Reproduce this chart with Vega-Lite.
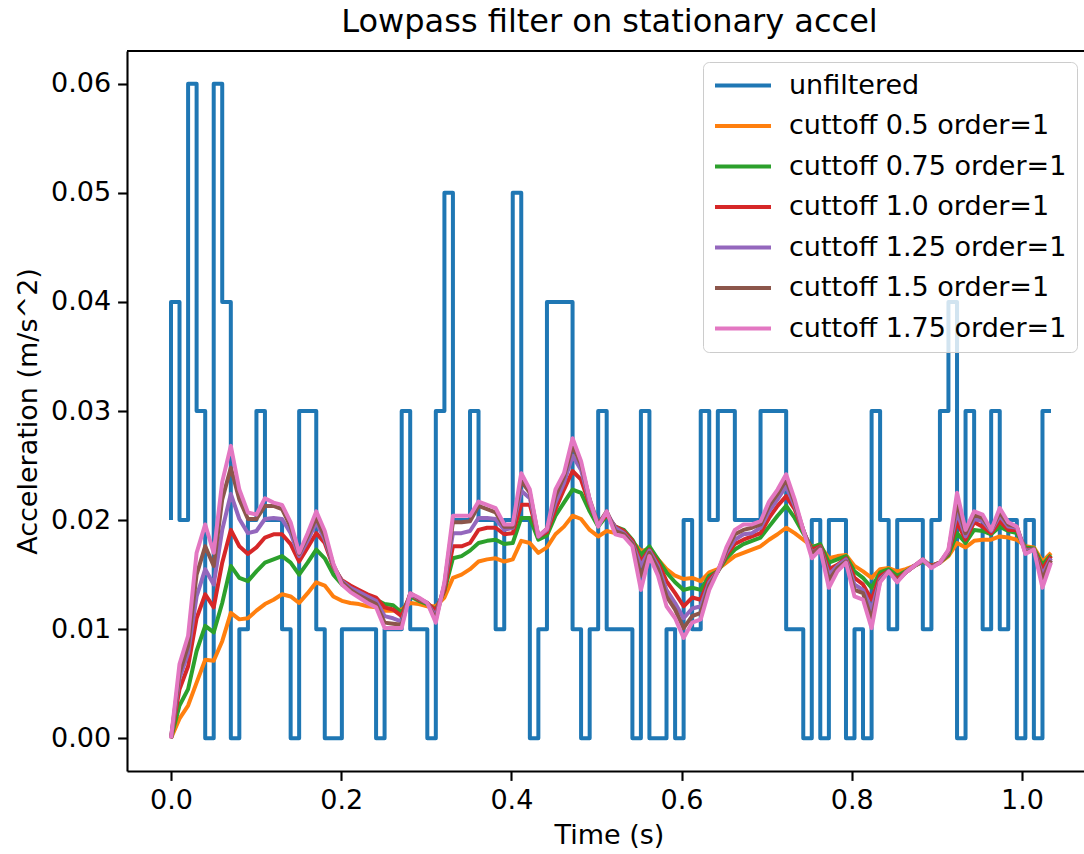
{
"$schema": "https://vega.github.io/schema/vega-lite/v6.json",
"width": 957, "height": 720,
"autosize": {"type": "none"},
"padding": {"left": 127, "top": 51, "right": 0, "bottom": 83},
"background": "white",
"config": {"font": "DejaVu Sans", "view": {"stroke": null},
 "axis": {"labelFont": "DejaVu Sans", "titleFont": "DejaVu Sans", "labelFontSize": 27, "titleFontSize": 27, "titleFontWeight": "normal", "labelColor": "black", "titleColor": "black", "tickColor": "black", "domainColor": "black", "tickSize": 9.4, "tickWidth": 2.1, "domainWidth": 2.1, "grid": false, "zindex": 1},
 "legend": {"title": null}},
"title": {"text": "Lowpass filter on stationary accel", "fontSize": 32, "font": "DejaVu Sans", "fontWeight": "normal", "color": "black", "anchor": "middle", "frame": "group", "offset": 16, "baseline": "alphabetic", "dx": 4, "dy": 30},
"data": {"values": [
{"t":0,"u":0.02,"a":0,"b":0,"c":0,"d":0,"e":0,"f":0},
{"t":0.01,"u":0.04,"a":0.0018,"b":0.003,"c":0.0045,"d":0.0055,"e":0.006,"f":0.0068},
{"t":0.0201,"u":0.02,"a":0.003,"b":0.0045,"c":0.0066,"d":0.0078,"e":0.0085,"f":0.0094},
{"t":0.0301,"u":0.06,"a":0.0051,"b":0.008,"c":0.011,"d":0.013,"e":0.015,"f":0.017},
{"t":0.0402,"u":0.03,"a":0.0072,"b":0.0103,"c":0.0132,"d":0.0155,"e":0.0176,"f":0.0196},
{"t":0.0502,"u":0,"a":0.0071,"b":0.0097,"c":0.012,"d":0.0141,"e":0.0158,"f":0.017},
{"t":0.0602,"u":0.06,"a":0.0089,"b":0.0124,"c":0.0161,"d":0.0191,"e":0.0219,"f":0.0235},
{"t":0.0703,"u":0.04,"a":0.0115,"b":0.0158,"c":0.0191,"d":0.0224,"e":0.0248,"f":0.0268},
{"t":0.0803,"u":0,"a":0.0109,"b":0.0147,"c":0.0176,"d":0.0201,"e":0.0219,"f":0.0228},
{"t":0.0904,"u":0.01,"a":0.011,"b":0.0144,"c":0.0169,"d":0.0188,"e":0.0201,"f":0.0207},
{"t":0.1004,"u":0.02,"a":0.0117,"b":0.0153,"c":0.0175,"d":0.019,"e":0.0201,"f":0.0205},
{"t":0.1104,"u":0.03,"a":0.0123,"b":0.0161,"c":0.0184,"d":0.0201,"e":0.0213,"f":0.022},
{"t":0.1205,"u":0.02,"a":0.0127,"b":0.0164,"c":0.0187,"d":0.0202,"e":0.0213,"f":0.0216},
{"t":0.1305,"u":0.02,"a":0.0132,"b":0.0167,"c":0.0187,"d":0.0201,"e":0.021,"f":0.0214},
{"t":0.1406,"u":0.01,"a":0.013,"b":0.0161,"c":0.0178,"d":0.0188,"e":0.0194,"f":0.0198},
{"t":0.1506,"u":0,"a":0.0124,"b":0.015,"c":0.0162,"d":0.0167,"e":0.0169,"f":0.017},
{"t":0.1606,"u":0.03,"a":0.0133,"b":0.0161,"c":0.0175,"d":0.0181,"e":0.0185,"f":0.0188},
{"t":0.1707,"u":0.03,"a":0.0143,"b":0.0173,"c":0.0188,"d":0.0198,"e":0.0202,"f":0.0208},
{"t":0.1807,"u":0.01,"a":0.014,"b":0.0165,"c":0.0179,"d":0.0182,"e":0.0185,"f":0.019},
{"t":0.1908,"u":0,"a":0.013,"b":0.015,"c":0.0157,"d":0.0158,"e":0.0159,"f":0.016},
{"t":0.2008,"u":0,"a":0.0126,"b":0.0141,"c":0.0145,"d":0.0144,"e":0.0143,"f":0.0141},
{"t":0.2108,"u":0.01,"a":0.0124,"b":0.0136,"c":0.014,"d":0.0138,"e":0.0136,"f":0.0134},
{"t":0.2209,"u":0.01,"a":0.0123,"b":0.0133,"c":0.0136,"d":0.0134,"e":0.0131,"f":0.0129},
{"t":0.2309,"u":0.01,"a":0.0121,"b":0.013,"c":0.0132,"d":0.013,"e":0.0127,"f":0.0124},
{"t":0.241,"u":0.01,"a":0.012,"b":0.0127,"c":0.0129,"d":0.0126,"e":0.0123,"f":0.012},
{"t":0.251,"u":0,"a":0.0117,"b":0.0123,"c":0.012,"d":0.0112,"e":0.0106,"f":0.0101},
{"t":0.261,"u":0.01,"a":0.0117,"b":0.0122,"c":0.0118,"d":0.011,"e":0.0105,"f":0.0101},
{"t":0.2711,"u":0.01,"a":0.0118,"b":0.0115,"c":0.0112,"d":0.0107,"e":0.0104,"f":0.0101},
{"t":0.2811,"u":0.03,"a":0.0124,"b":0.013,"c":0.0132,"d":0.0132,"e":0.0133,"f":0.0133},
{"t":0.2912,"u":0.01,"a":0.0123,"b":0.0126,"c":0.0127,"d":0.0128,"e":0.0128,"f":0.0129},
{"t":0.3012,"u":0.01,"a":0.0121,"b":0.0123,"c":0.0124,"d":0.0124,"e":0.0124,"f":0.0124},
{"t":0.3112,"u":0,"a":0.0121,"b":0.0118,"c":0.0117,"d":0.0112,"e":0.0109,"f":0.0106},
{"t":0.3213,"u":0.03,"a":0.0129,"b":0.0135,"c":0.0136,"d":0.014,"e":0.0141,"f":0.0143},
{"t":0.3313,"u":0.05,"a":0.0147,"b":0.0165,"c":0.0176,"d":0.0188,"e":0.0198,"f":0.0204},
{"t":0.3414,"u":0.02,"a":0.015,"b":0.0167,"c":0.0176,"d":0.0188,"e":0.0198,"f":0.0204},
{"t":0.3514,"u":0.02,"a":0.0155,"b":0.0172,"c":0.0179,"d":0.019,"e":0.0199,"f":0.0204},
{"t":0.3614,"u":0.03,"a":0.0162,"b":0.0179,"c":0.0191,"d":0.0202,"e":0.0213,"f":0.0217},
{"t":0.3715,"u":0.02,"a":0.0164,"b":0.0181,"c":0.0193,"d":0.0202,"e":0.021,"f":0.0214},
{"t":0.3815,"u":0.02,"a":0.0165,"b":0.0182,"c":0.0193,"d":0.0201,"e":0.0207,"f":0.0211},
{"t":0.3916,"u":0.01,"a":0.0162,"b":0.0178,"c":0.0187,"d":0.0191,"e":0.0194,"f":0.0196},
{"t":0.4016,"u":0.02,"a":0.0164,"b":0.0179,"c":0.0188,"d":0.0193,"e":0.0194,"f":0.0196},
{"t":0.4116,"u":0.05,"a":0.0181,"b":0.0202,"c":0.0214,"d":0.0227,"e":0.0236,"f":0.0243},
{"t":0.4217,"u":0.02,"a":0.0179,"b":0.0202,"c":0.0214,"d":0.022,"e":0.0225,"f":0.0228},
{"t":0.4317,"u":0,"a":0.017,"b":0.0182,"c":0.0185,"d":0.0185,"e":0.0185,"f":0.0185},
{"t":0.4418,"u":0.01,"a":0.0175,"b":0.0186,"c":0.0189,"d":0.0191,"e":0.0192,"f":0.0192},
{"t":0.4518,"u":0.04,"a":0.0187,"b":0.0204,"c":0.021,"d":0.0216,"e":0.0222,"f":0.0228},
{"t":0.4618,"u":0.04,"a":0.0194,"b":0.0216,"c":0.0228,"d":0.0234,"e":0.024,"f":0.0243},
{"t":0.4719,"u":0.04,"a":0.0204,"b":0.0228,"c":0.0245,"d":0.0259,"e":0.0268,"f":0.0275},
{"t":0.4819,"u":0.01,"a":0.0201,"b":0.0225,"c":0.0237,"d":0.0246,"e":0.0251,"f":0.0254},
{"t":0.492,"u":0,"a":0.0191,"b":0.0208,"c":0.0214,"d":0.0216,"e":0.0219,"f":0.0219},
{"t":0.502,"u":0.01,"a":0.0185,"b":0.0194,"c":0.0196,"d":0.0196,"e":0.0196,"f":0.0194},
{"t":0.512,"u":0.03,"a":0.019,"b":0.0204,"c":0.0205,"d":0.0207,"e":0.0208,"f":0.0208},
{"t":0.5221,"u":0.01,"a":0.0188,"b":0.0194,"c":0.0194,"d":0.0193,"e":0.019,"f":0.0187},
{"t":0.5321,"u":0.01,"a":0.0188,"b":0.0191,"c":0.019,"d":0.0188,"e":0.0187,"f":0.0185},
{"t":0.5422,"u":0.01,"a":0.018,"b":0.0182,"c":0.0181,"d":0.0179,"e":0.0178,"f":0.0176},
{"t":0.5522,"u":0,"a":0.0172,"b":0.0168,"c":0.0162,"d":0.0158,"e":0.0149,"f":0.0136},
{"t":0.5622,"u":0.03,"a":0.0173,"b":0.0176,"c":0.0173,"d":0.0172,"e":0.017,"f":0.0167},
{"t":0.5723,"u":0,"a":0.0164,"b":0.0164,"c":0.0161,"d":0.0158,"e":0.0155,"f":0.0149},
{"t":0.5823,"u":0,"a":0.0155,"b":0.0152,"c":0.0144,"d":0.0136,"e":0.013,"f":0.0121},
{"t":0.5924,"u":0.01,"a":0.0149,"b":0.0143,"c":0.0133,"d":0.0124,"e":0.0118,"f":0.011},
{"t":0.6024,"u":0,"a":0.0146,"b":0.0136,"c":0.0121,"d":0.011,"e":0.0101,"f":0.0092},
{"t":0.6124,"u":0.02,"a":0.0147,"b":0.0138,"c":0.0129,"d":0.0119,"e":0.0112,"f":0.0106},
{"t":0.6225,"u":0.01,"a":0.0144,"b":0.0136,"c":0.0127,"d":0.0121,"e":0.0115,"f":0.0109},
{"t":0.6325,"u":0.03,"a":0.0152,"b":0.0149,"c":0.0146,"d":0.0143,"e":0.014,"f":0.0136},
{"t":0.6426,"u":0.02,"a":0.0155,"b":0.0153,"c":0.0153,"d":0.0153,"e":0.0153,"f":0.0153},
{"t":0.6526,"u":0.03,"a":0.0161,"b":0.0165,"c":0.0168,"d":0.017,"e":0.0172,"f":0.0175},
{"t":0.6626,"u":0.03,"a":0.0167,"b":0.0173,"c":0.0178,"d":0.0182,"e":0.0187,"f":0.0191},
{"t":0.6727,"u":0.02,"a":0.017,"b":0.0178,"c":0.0182,"d":0.0187,"e":0.0191,"f":0.0196},
{"t":0.6827,"u":0.02,"a":0.0173,"b":0.0181,"c":0.0185,"d":0.0188,"e":0.0193,"f":0.0196},
{"t":0.6928,"u":0.02,"a":0.0176,"b":0.0184,"c":0.0188,"d":0.0193,"e":0.0196,"f":0.0199},
{"t":0.7028,"u":0.03,"a":0.0182,"b":0.0194,"c":0.0202,"d":0.0208,"e":0.0213,"f":0.0217},
{"t":0.7128,"u":0.03,"a":0.0187,"b":0.0204,"c":0.0213,"d":0.0219,"e":0.0224,"f":0.0228},
{"t":0.7229,"u":0.03,"a":0.0193,"b":0.0213,"c":0.0222,"d":0.0231,"e":0.0237,"f":0.0242},
{"t":0.7329,"u":0.01,"a":0.0188,"b":0.0202,"c":0.021,"d":0.0213,"e":0.0216,"f":0.0219},
{"t":0.743,"u":0.01,"a":0.0182,"b":0.0188,"c":0.019,"d":0.0191,"e":0.0191,"f":0.0191},
{"t":0.753,"u":0,"a":0.0176,"b":0.0175,"c":0.0173,"d":0.017,"e":0.0169,"f":0.0165},
{"t":0.763,"u":0.02,"a":0.0176,"b":0.0178,"c":0.0176,"d":0.0175,"e":0.0175,"f":0.0173},
{"t":0.7731,"u":0,"a":0.0165,"b":0.0161,"c":0.0155,"d":0.015,"e":0.0145,"f":0.0138},
{"t":0.7831,"u":0.02,"a":0.0167,"b":0.0164,"c":0.0159,"d":0.0158,"e":0.0156,"f":0.0153},
{"t":0.7932,"u":0.02,"a":0.0168,"b":0.0167,"c":0.0165,"d":0.0164,"e":0.0162,"f":0.0161},
{"t":0.8032,"u":0,"a":0.0158,"b":0.0153,"c":0.0147,"d":0.0141,"e":0.0136,"f":0.013},
{"t":0.8132,"u":0.01,"a":0.0153,"b":0.0147,"c":0.0141,"d":0.0136,"e":0.0133,"f":0.0127},
{"t":0.8233,"u":0,"a":0.0147,"b":0.0138,"c":0.0127,"d":0.0118,"e":0.0109,"f":0.0101},
{"t":0.8333,"u":0.03,"a":0.0155,"b":0.0152,"c":0.0149,"d":0.0146,"e":0.0144,"f":0.0143},
{"t":0.8434,"u":0.02,"a":0.0156,"b":0.0155,"c":0.0153,"d":0.0153,"e":0.0153,"f":0.0153},
{"t":0.8534,"u":0.01,"a":0.0153,"b":0.0149,"c":0.0146,"d":0.0144,"e":0.0144,"f":0.0143},
{"t":0.8634,"u":0.02,"a":0.0155,"b":0.0153,"c":0.0152,"d":0.0152,"e":0.0152,"f":0.0152},
{"t":0.8735,"u":0.02,"a":0.0158,"b":0.0158,"c":0.0158,"d":0.0158,"e":0.0158,"f":0.0158},
{"t":0.8835,"u":0.02,"a":0.0162,"b":0.0162,"c":0.0163,"d":0.0163,"e":0.0164,"f":0.0164},
{"t":0.8936,"u":0.01,"a":0.0158,"b":0.0158,"c":0.0158,"d":0.0157,"e":0.0157,"f":0.0156},
{"t":0.9036,"u":0.02,"a":0.0161,"b":0.0161,"c":0.0161,"d":0.0161,"e":0.0161,"f":0.0161},
{"t":0.9136,"u":0.03,"a":0.0167,"b":0.0168,"c":0.017,"d":0.0171,"e":0.0172,"f":0.0173},
{"t":0.9237,"u":0.04,"a":0.0179,"b":0.0188,"c":0.0198,"d":0.0207,"e":0.0216,"f":0.0225},
{"t":0.9337,"u":0,"a":0.0175,"b":0.0179,"c":0.0182,"d":0.0185,"e":0.0188,"f":0.0191},
{"t":0.9438,"u":0.03,"a":0.0181,"b":0.0191,"c":0.0198,"d":0.0201,"e":0.0205,"f":0.0208},
{"t":0.9538,"u":0.02,"a":0.0182,"b":0.019,"c":0.0194,"d":0.0199,"e":0.0202,"f":0.0205},
{"t":0.9638,"u":0.01,"a":0.0182,"b":0.0187,"c":0.0188,"d":0.019,"e":0.0191,"f":0.0191},
{"t":0.9739,"u":0.03,"a":0.0185,"b":0.0194,"c":0.0199,"d":0.0204,"e":0.0207,"f":0.0211},
{"t":0.9839,"u":0.01,"a":0.0184,"b":0.019,"c":0.0191,"d":0.0194,"e":0.0196,"f":0.0198},
{"t":0.994,"u":0.02,"a":0.0182,"b":0.0188,"c":0.0191,"d":0.0193,"e":0.0194,"f":0.0194},
{"t":1.004,"u":0,"a":0.0176,"b":0.0175,"c":0.0173,"d":0.0172,"e":0.017,"f":0.0169},
{"t":1.014,"u":0.02,"a":0.0175,"b":0.0174,"c":0.0173,"d":0.0173,"e":0.0173,"f":0.0173},
{"t":1.0241,"u":0,"a":0.0162,"b":0.0159,"c":0.0155,"d":0.015,"e":0.0146,"f":0.0138},
{"t":1.0341,"u":0.03,"a":0.017,"b":0.0168,"c":0.0167,"d":0.0165,"e":0.0163,"f":0.0161}
]},
"layer": [
 {"mark": {"type": "line", "interpolate": "step-before", "strokeWidth": 4, "strokeJoin": "round"},
  "encoding": {
   "x": {"field": "t", "type": "quantitative", "scale": {"domain": [-0.0517, 1.0729], "nice": false, "zero": false},
         "axis": {"values": [0, 0.2, 0.4, 0.6, 0.8, 1.0], "format": ".1f", "title": "Time (s)", "labelPadding": 7, "titleX": 482, "titleY": 64, "titleBaseline": "middle", "titleAlign": "center"}},
   "y": {"field": "u", "type": "quantitative", "scale": {"domain": [-0.003, 0.063], "nice": false, "zero": false},
         "axis": {"values": [0, 0.01, 0.02, 0.03, 0.04, 0.05, 0.06], "format": ".2f", "title": "Acceleration (m/s^2)", "labelPadding": 7, "titleX": -99, "titleY": 360, "titleAngle": 270, "titleBaseline": "middle", "titleAlign": "center"}},
   "color": {"datum": "u", "type": "nominal", "title": null,
     "scale": {"domain": ["u", "a", "b", "c", "d", "e", "f"], "range": ["#1f77b4", "#ff7f0e", "#2ca02c", "#d62728", "#9467bd", "#8c564b", "#e377c2"]},
     "legend": {"title": null, "orient": "none", "legendX": 576, "legendY": 11, "symbolType": "stroke", "symbolSize": 3136, "symbolStrokeWidth": 4, "clipHeight": 27, "rowPadding": 12.5, "padding": 10, "labelFontSize": 27, "labelFont": "DejaVu Sans", "labelColor": "black", "labelOffset": 16, "labelLimit": 500, "fillColor": "rgba(255,255,255,0.8)", "strokeColor": "#cccccc", "cornerRadius": 6,
       "labelExpr": "datum.label == 'u' ? 'unfiltered' : datum.label == 'a' ? 'cuttoff 0.5 order=1' : datum.label == 'b' ? 'cuttoff 0.75 order=1' : datum.label == 'c' ? 'cuttoff 1.0 order=1' : datum.label == 'd' ? 'cuttoff 1.25 order=1' : datum.label == 'e' ? 'cuttoff 1.5 order=1' : 'cuttoff 1.75 order=1'"}}
  }},
 {"transform": [{"fold": ["a", "b", "c", "d", "e", "f"], "as": ["s", "v"]}],
  "mark": {"type": "line", "strokeWidth": 4, "strokeJoin": "round"},
  "encoding": {
   "x": {"field": "t", "type": "quantitative"},
   "y": {"field": "v", "type": "quantitative"},
   "color": {"field": "s", "type": "nominal", "title": null, "legend": {"title": null}}
  }},
 {"data": {"values": [{}]},
  "mark": {"type": "rule", "color": "black", "strokeWidth": 2.1},
  "encoding": {"y": {"datum": 0.063, "type": "quantitative"}}}
]
}
